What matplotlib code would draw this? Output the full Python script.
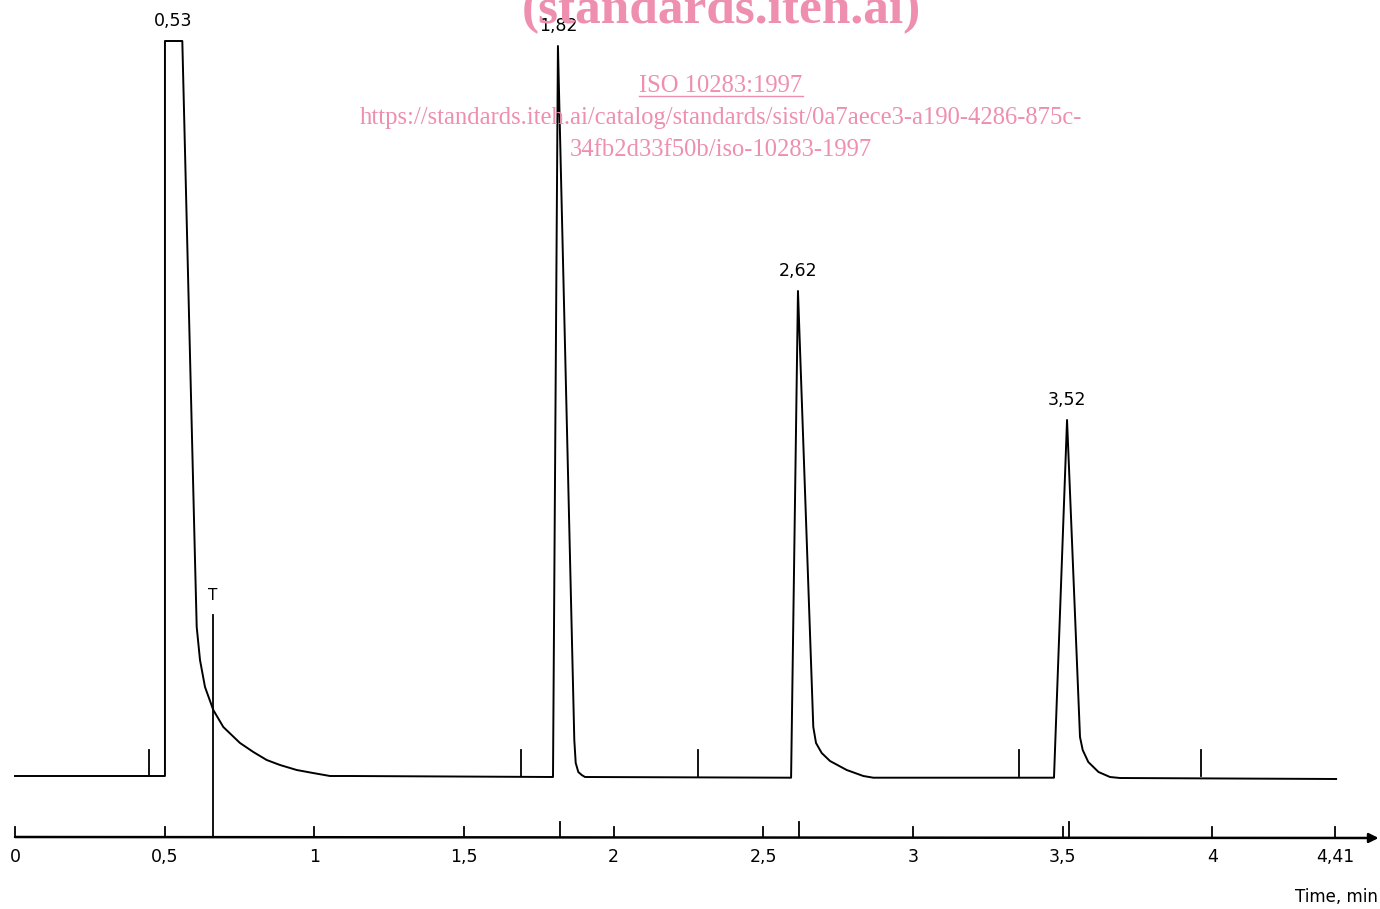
import matplotlib
matplotlib.use("Agg")
from matplotlib import pyplot as plt
from matplotlib.lines import Line2D

# tiempos de retencion (min) y etiquetas de los picos
tiempos_ret = [0.53, 1.82, 2.62, 3.52]
pos_etiquetas = [0.528, 1.814, 2.616, 3.515]
alturas_pico = [735, 730, 485, 356]

# traza del cromatograma (tiempo en min, senal en unidades arbitrarias)
t_traza = [0.0, 0.501, 0.501, 0.559, 0.6014, 0.6071, 0.6181, 0.6348, 0.6625, 0.6960,
           0.7239, 0.7518, 0.7963, 0.8410, 0.8854, 0.9412, 0.9957, 1.0525, 1.119,
           1.7975, 1.814, 1.8687, 1.8734, 1.8821, 1.8934, 1.9044,
           2.593, 2.616, 2.6672, 2.6763, 2.6953, 2.7230, 2.7788, 2.8343, 2.8677,
           3.4714, 3.515, 3.5583, 3.5673, 3.5860, 3.6201, 3.6585, 3.6919, 4.414]
s_traza = [0, 0, 735, 735, 216, 149, 116, 89, 66, 49,
           41, 33, 24, 16, 11, 6, 3, 0, 0,
           -1, 730, 36, 13, 4, 1, -1,
           -1.7, 485, 49, 33, 23, 15, 6, 0, -1.7,
           -1.7, 356, 39, 26, 14, 4, -1, -2, -3]

# marcas de eventos sobre la linea base
marcas = [0.448, 1.69, 2.282, 3.355, 3.963]

# marca T (tiempo muerto)
t_muerto = 0.662

# eje de tiempo
ticks_eje = [0, 0.5, 1, 1.5, 2, 2.5, 3, 3.5, 4, 4.41]
etiquetas_eje = ["0", "0,5", "1", "1,5", "2", "2,5", "3", "3,5", "4", "4,41"]

rosa = "#ef8fb0"

fig = plt.figure(figsize=(13.8, 9.09), dpi=100)
ax = fig.add_axes([0, 0, 1, 1])
ax.set_xlim(-15 / 299.3, (1380 - 15) / 299.3)
ax.set_ylim(776 - 909, 776)
ax.axis("off")

# cromatograma
ax.plot(t_traza, s_traza, color="black", lw=1.4, solid_joinstyle="round")

# marcas de eventos
for m in marcas:
    ax.plot([m, m], [0, 26], color="black", lw=1.3)

# linea T
ax.plot([t_muerto, t_muerto], [-61, 161], color="black", lw=1.3)
ax.text(t_muerto, 181, "T", ha="center", va="center", fontsize=11)

# etiquetas de los picos
for rt, x, h in zip(tiempos_ret, pos_etiquetas, alturas_pico):
    ax.text(x, h + 20, f"{rt:.2f}".replace(".", ","), ha="center", va="center",
            fontsize=12.5)

# eje de tiempo con flecha
y_eje = -61
ax.annotate("", xy=(4.556, y_eje - 1), xytext=(0, y_eje),
            arrowprops=dict(arrowstyle="-|>", color="black", lw=1.8,
                            mutation_scale=14, shrinkA=0, shrinkB=0))
for t, lab in zip(ticks_eje, etiquetas_eje):
    ax.plot([t, t], [y_eje, y_eje + 10], color="black", lw=1.3)
    ax.text(t, y_eje - 20, lab, ha="center", va="center", fontsize=12.5)
for rt in tiempos_ret[1:]:
    ax.plot([rt, rt], [y_eje, y_eje + 15], color="black", lw=1.3)
ax.text(4.554, -121, "Time, min", ha="right", va="center", fontsize=12)

# marca de agua
ax.text(2.359, 753, "(standards.iteh.ai)", ha="center", va="baseline",
        fontsize=37, fontweight="bold", family="Liberation Serif", color=rosa)
iso = ax.text(2.359, 690, "ISO 10283:1997", ha="center", va="center",
              fontsize=17.7, family="Liberation Serif", color=rosa)
ax.text(2.359, 658, "https://standards.iteh.ai/catalog/standards/sist/0a7aece3-a190-4286-875c-",
        ha="center", va="center", fontsize=17.7, family="Liberation Serif", color=rosa)
ax.text(2.359, 626, "34fb2d33f50b/iso-10283-1997", ha="center", va="center",
        fontsize=17.7, family="Liberation Serif", color=rosa)

# subrayado del texto ISO
fig.canvas.draw()
bb = iso.get_window_extent()
fig.add_artist(Line2D([bb.x0, bb.x1], [bb.y0 + 1, bb.y0 + 1], color=rosa, lw=1,
                      transform=None))

plt.savefig("out.png", dpi=100)
